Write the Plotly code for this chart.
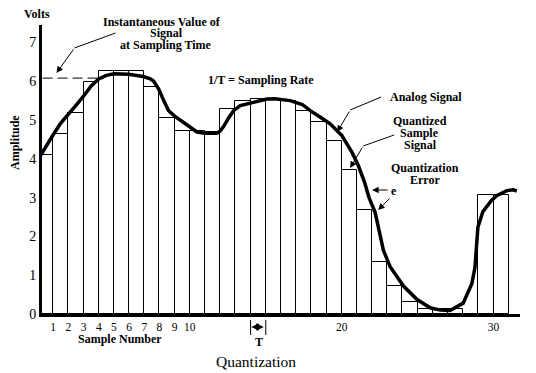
import plotly.graph_objects as go

# ---------------- data ----------------
bar_left_edges = list(range(0, 31))
bar_heights = [4.11, 4.64, 5.18, 5.97, 6.26, 6.26, 6.26, 5.86, 5.06, 4.72,
               4.72, 4.70, 5.29, 5.50, 5.53, 5.53, 5.48, 5.24, 4.94, 4.45,
               3.72, 2.69, 1.34, 0.73, 0.31, 0.12, 0.12, 0.12, 0.0, 3.08, 3.08]

signal_t = [0.164, 0.6, 1.0, 1.5, 2.03, 2.5, 2.97, 3.5, 4.0, 4.5, 5.0, 5.97,
            6.92, 7.4, 7.62, 7.8, 7.95, 8.28, 8.6, 9.0, 9.38, 10.0, 10.47,
            11.0, 11.79, 12.0, 12.22, 12.55, 12.88, 13.32, 14.2, 15.08, 15.6,
            16.61, 17.4, 17.93, 18.6, 19.24, 20.01, 20.67, 21.1, 21.5, 21.8,
            22.2, 22.75, 23.19, 24.07, 24.95, 25.82, 26.5, 27.14, 28.0, 28.57,
            28.78, 28.97, 29.3, 29.85, 30.2, 30.87, 31.3, 31.53]
signal_v = [4.08, 4.38, 4.62, 4.92, 5.18, 5.38, 5.60, 5.88, 6.06, 6.15, 6.19, 6.18,
            6.12, 6.06, 6.00, 5.90, 5.80, 5.50, 5.24, 5.10, 4.99, 4.82, 4.69,
            4.66, 4.66, 4.72, 4.83, 5.05, 5.24, 5.37, 5.46, 5.54, 5.55,
            5.50, 5.40, 5.24, 5.07, 4.90, 4.60, 4.17, 3.82, 3.40, 3.00,
            2.62, 1.64, 1.22, 0.72, 0.38, 0.16, 0.10, 0.09, 0.28, 0.78,
            1.21, 2.24, 2.64, 2.92, 3.05, 3.18, 3.20, 3.17]

x_tick_vals = [1, 2, 3, 4, 5, 6, 7, 8, 9, 10, 20, 30]
y_tick_vals = [0, 1, 2, 3, 4, 5, 6, 7]
sample_level = 6.08  # instantaneous value marked by dashed line
period_marker = [14, 15]

# ---------------- layout helpers ----------------
OFF = 8                      # page body margin of the html page
W, H = 536 - OFF, 373 - OFF  # figure size so it fits the window
PLOT_L, PLOT_R, PLOT_T, PLOT_B = 41.5, 520, 25, 314   # target window pixels
ML = PLOT_L - OFF
MT = PLOT_T - OFF
MR = W - (PLOT_R - OFF)
MB = H - (PLOT_B - OFF)
PW, PH = PLOT_R - PLOT_L, PLOT_B - PLOT_T
SERIF = "Liberation Serif"
X_PER_UNIT, Y_PER_UNIT = 15.2, 38.8
x_start = 0.164 + (PLOT_L - 40) / X_PER_UNIT


def X(px):
    return (px - PLOT_L) / PW


def Y(py):
    return (PLOT_B - py) / PH


fig = go.Figure()

fig.add_trace(go.Bar(
    x=[e + 0.5 for e in bar_left_edges], y=bar_heights, width=1,
    marker=dict(color="white", line=dict(color="black", width=1)),
    showlegend=False, hoverinfo="skip"))

fig.add_trace(go.Scatter(
    x=signal_t, y=signal_v, mode="lines",
    line=dict(color="black", width=3.5),
    showlegend=False, hoverinfo="skip", cliponaxis=False))

shapes = []
shapes.append(dict(type="line", xref="x", yref="y", x0=0.3, x1=4.0,
                   y0=sample_level, y1=sample_level,
                   line=dict(color="black", width=1, dash="10px,5px")))


def seg(p0, p1):
    shapes.append(dict(type="line", xref="paper", yref="paper",
                       x0=X(p0[0]), y0=Y(p0[1]), x1=X(p1[0]), y1=Y(p1[1]),
                       line=dict(color="black", width=1)))


seg((115, 33), (74, 48))
seg((381, 97), (350, 110))
seg((394, 135), (363, 146))
for t in period_marker:
    shapes.append(dict(type="line", xref="x", yref="paper", x0=t, x1=t,
                       y0=Y(320), y1=Y(335), line=dict(color="black", width=1)))

ann = []


def text(s, px, py, size=12, bold=True, **kw):
    d = dict(text=s, x=X(px), y=Y(py), xref="paper", yref="paper",
             showarrow=False, xanchor="center", yanchor="middle",
             font=dict(family=SERIF, size=size, color="black",
                       weight="bold" if bold else "normal"))
    d.update(kw)
    ann.append(d)


def arrow(head, tail, side="end", width=1, size=1.3):
    ann.append(dict(text="", x=X(head[0]), y=Y(head[1]), xref="paper", yref="paper",
                    ax=tail[0] - head[0], ay=tail[1] - head[1],
                    axref="pixel", ayref="pixel",
                    showarrow=True, arrowhead=2, arrowsize=size, arrowwidth=width,
                    arrowcolor="black", arrowside=side))


text("Volts", 36, 14)
text("Instantaneous Value of", 162, 21.7)
text("Signal", 166, 33.3)
text("at Sampling Time", 166, 45)
text("1/T = Sampling Rate", 261, 80)
text("Analog Signal", 425.5, 97.3)
text("Quantized", 420, 120.7)
text("Sample", 419, 133.3)
text("Signal", 420, 145)
text("Quantization", 425, 168.3)
text("Error", 425, 180)
text("e", 394, 191)
text("Amplitude", 14, 142.5, textangle=-90)
text("Sample Number", 119.5, 338.5)
text("T", 259, 342)
text("Quantization", 256, 361.5, size=15.5, bold=False)

arrow((56, 73), (74, 48))
arrow((337, 132), (350, 110))
arrow((350, 168), (363, 146))
arrow((372, 190), (389, 190))
arrow((378, 210), (391, 197))
arrow((251, 327), (265, 327), side="end+start", width=1.5, size=1)

fig.update_layout(
    width=W, height=H,
    margin=dict(l=ML, r=MR, t=MT, b=MB, pad=0, autoexpand=False),
    paper_bgcolor="white", plot_bgcolor="white",
    bargap=0, shapes=shapes, annotations=ann,
    xaxis=dict(range=[x_start, x_start + PW / X_PER_UNIT], tickvals=x_tick_vals,
               ticks="", showgrid=False, zeroline=False,
               showline=True, linewidth=3, linecolor="black",
               tickfont=dict(family=SERIF, size=11.5, color="black")),
    yaxis=dict(range=[0, PH / Y_PER_UNIT], tickvals=y_tick_vals,
               ticks="", showgrid=False, zeroline=False,
               showline=True, linewidth=3, linecolor="black",
               tickfont=dict(family=SERIF, size=14, color="black")),
)

fig.write_html("out.html")
